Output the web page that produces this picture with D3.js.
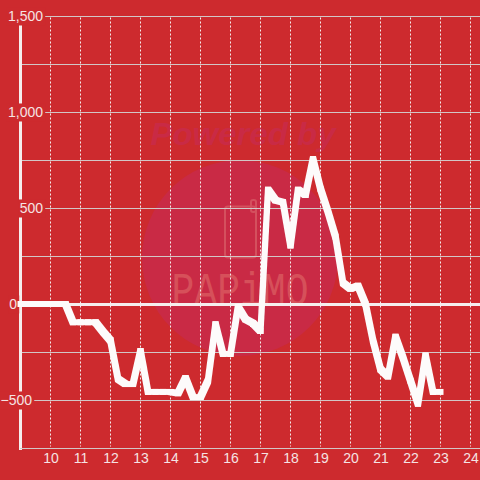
<!DOCTYPE html>
<html><head><meta charset="utf-8">
<script src="https://cdn.jsdelivr.net/npm/d3@7"></script>
<style>html,body{margin:0;padding:0;background:#cd2a2e}svg{display:block}text{font-family:"Liberation Sans",Arial,sans-serif}</style>
</head><body><div id="c"></div>
<script>
const hours=[9,9.25,9.5,9.75,10,10.25,10.5,10.75,11,11.25,11.5,11.75,12,12.25,12.5,12.75,13,13.25,13.5,13.75,14,14.25,14.5,14.75,15,15.25,15.5,15.75,16,16.25,16.5,16.75,17,17.25,17.5,17.75,18,18.25,18.5,18.75,19,19.25,19.5,19.75,20,20.25,20.5,20.75,21,21.25,21.5,21.75,22,22.25,22.5,22.75,23];
const values=[0,0,0,0,0,0,0,-95,-95,-95,-95,-145,-190,-390,-417,-417,-245,-458,-458,-458,-458,-465,-385,-485,-485,-400,-105,-260,-260,-15,-80,-100,-140,595,540,530,305,595,568,755,600,480,350,110,80,95,0,-190,-340,-377,-170,-280,-400,-519,-268,-458,-458];
const xTicks=[10,11,12,13,14,15,16,17,18,19,20,21,22,23,24];
const yTicks=[-500,0,500,1000,1500];
const yMinor=[-750,-250,250,750,1250];
const W=480,H=480,txt="#f5e3e3",grid="#d2c6c6";
const x=d3.scaleLinear().domain([9,25]).range([20.5,500.5]);
const y=d3.scaleLinear().domain([-750,1500]).range([448.5,16.5]);
const svg=d3.select("#c").append("svg").attr("width",W).attr("height",H);
svg.append("rect").attr("width",W).attr("height",H).attr("fill","#cd2a2e");
// watermark
const wm=svg.append("g");
wm.append("circle").attr("cx",240).attr("cy",258).attr("r",98).attr("fill","#c92a45");
wm.append("text").attr("x",243).attr("y",145).attr("text-anchor","middle").attr("font-size",31).attr("font-weight","bold").attr("font-style","italic").attr("textLength",185).attr("lengthAdjust","spacingAndGlyphs").attr("fill","#c92a45").text("Powered by");
wm.append("rect").attr("x",225).attr("y",206.5).attr("width",31).attr("height",51).attr("rx",3).attr("fill","none").attr("stroke","#d4505e").attr("stroke-width",2);
wm.append("rect").attr("x",251).attr("y",200).attr("width",5).attr("height",12).attr("rx",2).attr("fill","none").attr("stroke","#d4505e").attr("stroke-width",2);
wm.append("text").attr("x",240).attr("y",305).attr("text-anchor","middle").attr("font-size",46).attr("textLength",137).attr("lengthAdjust","spacingAndGlyphs").attr("fill","#d6505a").style("font-family","'Liberation Mono'").text("PAPiMO");
// vertical dotted grid
svg.append("g").selectAll("line").data(xTicks).join("line")
 .attr("x1",d=>x(d)).attr("x2",d=>x(d)).attr("y1",y(1500)+1).attr("y2",y(-750)-2)
 .attr("stroke","#f4ecec").attr("stroke-dasharray","2,2");
// horizontal grid
svg.append("g").selectAll("line").data(yMinor.concat(yTicks.filter(d=>d!==0))).join("line")
 .attr("x1",21).attr("x2",W).attr("y1",d=>y(d)).attr("y2",d=>y(d)).attr("stroke",grid).attr("stroke-width",1);
// left axis line
svg.append("line").attr("x1",20.5).attr("x2",20.5).attr("y1",16).attr("y2",450).attr("stroke","#f5eeee").attr("stroke-width",3);
// zero line
svg.append("line").attr("x1",17).attr("x2",W).attr("y1",y(0)).attr("y2",y(0)).attr("stroke","#f5eeee").attr("stroke-width",3);
// y axis with label backgrounds
const ya=svg.append("g").attr("transform","translate(44,0)").call(d3.axisLeft(y).tickValues(yTicks).tickSize(0).tickPadding(1).tickFormat(d3.format(",")));
ya.select(".domain").remove();
ya.selectAll("text").attr("font-size",14).attr("fill",txt).style("font-family",'"Liberation Sans"').each(function(d){
  const t=d3.select(this);
  t.attr("x",d===0?-27:d===-500?-12:-1);
  const b=this.getBBox();
  d3.select(this.parentNode).insert("rect","text").attr("x",b.x-1).attr("y",b.y-1).attr("width",b.width+3).attr("height",b.height+2).attr("fill","#cd2a2e");
});
// x axis
const xa=svg.append("g").attr("transform","translate(0,448.5)").call(d3.axisBottom(x).tickValues(xTicks).tickSize(0).tickPadding(5).tickFormat(d3.format("d")));
xa.select(".domain").remove();
xa.selectAll("text").attr("font-size",14).attr("fill",txt).style("font-family",'"Liberation Sans"');
svg.append("line").attr("x1",20).attr("x2",W).attr("y1",448.5).attr("y2",448.5).attr("stroke",grid);
// series: square 6px brush swept along each segment
const pts=d3.zip(hours,values).map(d=>[x(d[0]),y(d[1])-0.5]);
const h=3;
const corners=p=>[[p[0]-h,p[1]-h],[p[0]+h,p[1]-h],[p[0]+h,p[1]+h],[p[0]-h,p[1]+h]];
svg.append("g").selectAll("path").data(d3.pairs(pts)).join("path")
 .attr("d",([a,b])=>"M"+d3.polygonHull(corners(a).concat(corners(b))).join("L")+"Z")
 .attr("fill","#fdfbfb");
</script></body></html>
